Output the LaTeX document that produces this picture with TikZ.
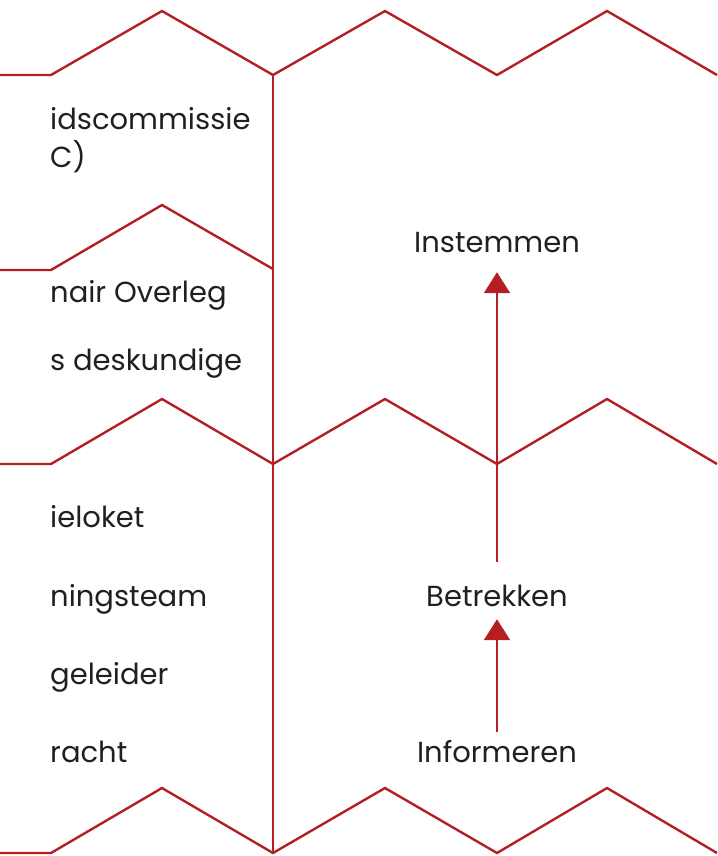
\documentclass[tikz,border=0pt]{standalone}
\usepackage{fontspec}
\setmainfont{Poppins}
\usetikzlibrary{arrows.meta}
\definecolor{zred}{HTML}{B51F24}
\definecolor{ztext}{HTML}{231F20}
\begin{document}
\begin{tikzpicture}[x=1pt,y=-1pt,
  zig/.style={draw=zred,line width=2.4pt,line join=miter},
  lbl/.style={text=ztext,font=\fontsize{29}{33}\selectfont,inner sep=0pt,anchor=base west},
  act/.style={text=ztext,font=\fontsize{29}{33}\selectfont,inner sep=0pt,anchor=base,text height=20pt,text depth=0pt},
  flow/.style={draw=zred,line width=2.4pt,-{Triangle[width=26pt,length=21pt]}}]
\useasboundingbox (0,0) rectangle (717,856);
% zigzag lines
\draw[zig] (0,75) -- (51,75) -- (162,11) -- (273,75) -- (385,11) -- (497,75) -- (607,11) -- (717,75);
\draw[zig] (0,270) -- (51,270) -- (162,205) -- (273,269);
\draw[zig] (0,464) -- (51,464) -- (162,399) -- (273,464) -- (385,399) -- (497,464) -- (607,399) -- (717,464);
\draw[zig] (0,853) -- (51,853) -- (162,788) -- (273,853) -- (385,788) -- (497,853) -- (607,788) -- (717,853);
% vertical divider
\draw[zig] (273,75) -- (273,853);
% left labels
\node[lbl] (l1) at (50,129) {idscommissie};
\node[lbl] (l2) at (50,167) {C)};
\node[lbl] (l3) at (50,302) {nair Overleg};
\node[lbl] (l4) at (50,370) {s deskundige};
\node[lbl] (l5) at (50,527) {ieloket};
\node[lbl] (l6) at (50,606) {ningsteam};
\node[lbl] (l7) at (50,684) {geleider};
\node[lbl] (l8) at (50,762) {racht};
% right column
\node[act] (ins) at (497,252) {Instemmen};
\node[act] (bet) at (497,606) {Betrekken};
\node[act] (inf) at (497,762) {Informeren};
\draw[flow,shorten <=10pt,shorten >=13pt] (inf.north) -- (bet.south);
\draw[flow,shorten <=24pt,shorten >=20pt] (bet.north) -- (ins.south);
\end{tikzpicture}
\end{document}
